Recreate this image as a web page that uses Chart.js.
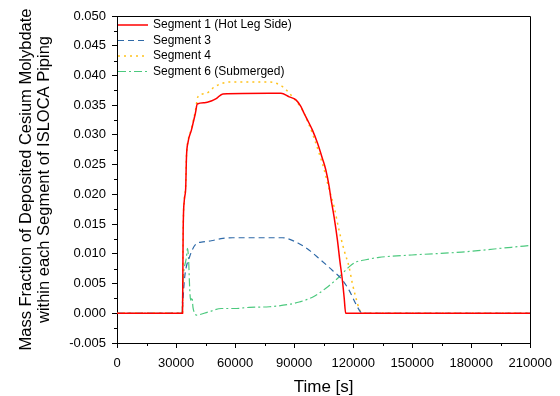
<!DOCTYPE html>
<html>
<head>
<meta charset="utf-8">
<script src="https://cdn.jsdelivr.net/npm/chart.js@4.4.1/dist/chart.umd.min.js"></script>
<style>
  html, body { margin: 0; padding: 0; background: #fff; }
  canvas { display: block; }
</style>
</head>
<body>
<canvas id="myChart" width="560" height="396"></canvas>
<script>
// data (time in s, mass fraction)
const seg1Time = [0, 33000, 33300, 33600, 34200, 34900, 35300, 36100, 37800, 38600, 39800, 40800, 44500, 47900, 50400, 53800, 77400, 83300, 87500, 90900, 93400, 95100, 96800, 99300, 101900, 104400, 106100, 107800, 108600, 110300, 112000, 113200, 114500, 115400, 116200, 210000];
const seg1Vals = [0, 0, 0, 0.0135, 0.0190, 0.0210, 0.0263, 0.0288, 0.0308, 0.0319, 0.0336, 0.0352, 0.0354, 0.0357, 0.0361, 0.0369, 0.0370, 0.0370, 0.0364, 0.0359, 0.0348, 0.0336, 0.0325, 0.0308, 0.0286, 0.0260, 0.0241, 0.0213, 0.0195, 0.0162, 0.0123, 0.0089, 0.0056, 0.0027, 0, 0];

const seg3Time = [0, 33000, 33500, 34400, 36900, 40300, 43700, 47900, 53800, 58800, 84000, 92600, 97700, 102700, 109500, 114500, 117900, 121300, 123800, 125000, 210000];
const seg3Vals = [0, 0, 0.0022, 0.0061, 0.0095, 0.0117, 0.0120, 0.0122, 0.0126, 0.0127, 0.0127, 0.0117, 0.0106, 0.0092, 0.0072, 0.0056, 0.0039, 0.0016, 0.0002, 0, 0];

const seg4Time = [0, 33000, 33300, 33600, 34200, 34900, 35300, 36100, 37800, 38600, 39800, 41100, 45400, 49600, 54700, 58000, 77400, 84200, 88400, 92600, 95100, 97700, 100200, 102700, 105300, 107400, 110300, 112800, 115400, 117900, 119600, 121300, 123000, 124600, 210000];
const seg4Vals = [0, 0, 0, 0.0135, 0.0190, 0.0215, 0.0265, 0.0290, 0.0310, 0.0322, 0.0340, 0.0364, 0.0370, 0.0381, 0.0388, 0.0389, 0.0389, 0.0381, 0.0367, 0.0350, 0.0336, 0.0316, 0.0294, 0.0269, 0.0241, 0.0213, 0.0179, 0.0140, 0.0106, 0.0078, 0.0050, 0.0027, 0.0008, 0, 0];

const seg6Time = [0, 33000, 33500, 35300, 35800, 36400, 36900, 37400, 38100, 38600, 39500, 40300, 46200, 53000, 59700, 67300, 77400, 87500, 92600, 99300, 106100, 112800, 117900, 121300, 126400, 133100, 149800, 175100, 200400, 210000];
const seg6Vals = [0, 0, 0.0050, 0.0095, 0.0109, 0.0089, 0.0044, 0.0022, 0.0027, 0.0010, 0, -0.0003, 0.0002, 0.0008, 0.0008, 0.0010, 0.0011, 0.0015, 0.0019, 0.0027, 0.0042, 0.0061, 0.0078, 0.0086, 0.0090, 0.0094, 0.0098, 0.0103, 0.0111, 0.0114];

const seriesNames = ['Segment 1 (Hot Leg Side)', 'Segment 3', 'Segment 4', 'Segment 6 (Submerged)'];

const yTicksMin = -0.005, yTicksMax = 0.05, yStep = 0.005;
const xTicksMin = 0, xTicksMax = 210000, xStep = 30000;

const FONT = "'Liberation Sans', Arial, sans-serif";

function pts(t, v) {
  return t.map((x, i) => ({x: x, y: v[i]}));
}

// minor ticks + box + legend, drawn on top
const extras = {
  id: 'extras',
  afterDraw(chart) {
    const {ctx, chartArea, scales} = chart;
    const xs = scales.x, ys = scales.y;
    ctx.save();
    ctx.strokeStyle = '#000';
    ctx.lineWidth = 1;

    // minor ticks
    ctx.beginPath();
    for (let v = yTicksMin + yStep / 2; v < yTicksMax; v += yStep) {
      const y = Math.round(ys.getPixelForValue(v)) + 0.5;
      ctx.moveTo(chartArea.left, y);
      ctx.lineTo(chartArea.left - 3, y);
    }
    for (let v = xTicksMin + xStep / 2; v < xTicksMax; v += xStep) {
      const x = Math.round(xs.getPixelForValue(v)) + 0.5;
      ctx.moveTo(x, chartArea.bottom);
      ctx.lineTo(x, chartArea.bottom + 3);
    }
    ctx.stroke();

    // top and right frame
    ctx.beginPath();
    ctx.moveTo(chartArea.left, Math.round(chartArea.top) + 0.5);
    ctx.lineTo(Math.round(chartArea.right) + 0.5, Math.round(chartArea.top) + 0.5);
    ctx.lineTo(Math.round(chartArea.right) + 0.5, chartArea.bottom);
    ctx.stroke();

    // legend
    ctx.font = '12px ' + FONT;
    ctx.textBaseline = 'middle';
    ctx.fillStyle = '#000';
    chart.data.datasets.forEach((ds, i) => {
      const y = chartArea.top + 9 + i * 15.5;
      ctx.save();
      ctx.strokeStyle = ds.borderColor;
      ctx.lineWidth = ds.borderWidth;
      ctx.setLineDash(ds.borderDash || []);
      ctx.beginPath();
      ctx.moveTo(chartArea.left + 1, y);
      ctx.lineTo(chartArea.left + 31, y);
      ctx.stroke();
      ctx.restore();
      ctx.fillText(ds.label, chartArea.left + 36, y);
    });
    ctx.restore();
  }
};

const data = {
  datasets: [
    {
      label: seriesNames[0],
      data: pts(seg1Time, seg1Vals),
      borderColor: '#ff0000',
      borderWidth: 1.5
    },
    {
      label: seriesNames[1],
      data: pts(seg3Time, seg3Vals),
      borderColor: '#2f6aa8',
      borderWidth: 1.2,
      borderDash: [6, 4]
    },
    {
      label: seriesNames[2],
      data: pts(seg4Time, seg4Vals),
      borderColor: '#ffc21c',
      borderWidth: 1.5,
      borderDash: [2, 4]
    },
    {
      label: seriesNames[3],
      data: pts(seg6Time, seg6Vals),
      borderColor: '#4cc97e',
      borderWidth: 1.2,
      borderDash: [8, 3, 2, 3]
    }
  ]
};

const config = {
  type: 'line',
  data,
  options: {
    responsive: false,
    animation: false,
    devicePixelRatio: 1,
    layout: { padding: { top: 16, right: 28, bottom: 0, left: 0 } },
    elements: {
      point: { radius: 0 },
      line: { cubicInterpolationMode: 'monotone', fill: false }
    },
    plugins: {
      legend: { display: false },
      tooltip: { enabled: false }
    },
    scales: {
      x: {
        type: 'linear',
        min: xTicksMin,
        max: xTicksMax,
        afterFit(scale) { scale.height = 53; },
        border: { display: true, color: '#000', width: 1 },
        grid: { drawOnChartArea: false, tickLength: 5, tickColor: '#000' },
        ticks: {
          stepSize: xStep,
          color: '#000',
          padding: 8,
          maxRotation: 0,
          font: { family: FONT, size: 13 },
          callback: (v) => String(v)
        },
        title: {
          display: true,
          text: 'Time [s]',
          color: '#000',
          font: { family: FONT, size: 17, lineHeight: 1 },
          padding: { top: 0, bottom: 0 }
        }
      },
      y: {
        type: 'linear',
        min: yTicksMin,
        max: yTicksMax,
        afterFit(scale) { scale.width = 117; },
        border: { display: true, color: '#000', width: 1 },
        grid: { drawOnChartArea: false, tickLength: 5, tickColor: '#000' },
        ticks: {
          stepSize: yStep,
          color: '#000',
          padding: 6,
          font: { family: FONT, size: 13 },
          callback: (v) => Number(v).toFixed(3)
        },
        title: {
          display: true,
          text: ['Mass Fraction of Deposited Cesium Molybdate', 'within each Segment of ISLOCA Piping'],
          color: '#000',
          font: { family: FONT, size: 16.5, lineHeight: 1.06 },
          padding: { top: 18, bottom: 0 }
        }
      }
    }
  },
  plugins: [extras]
};

const myChart = new Chart(document.getElementById('myChart'), config);
</script>
</body>
</html>
